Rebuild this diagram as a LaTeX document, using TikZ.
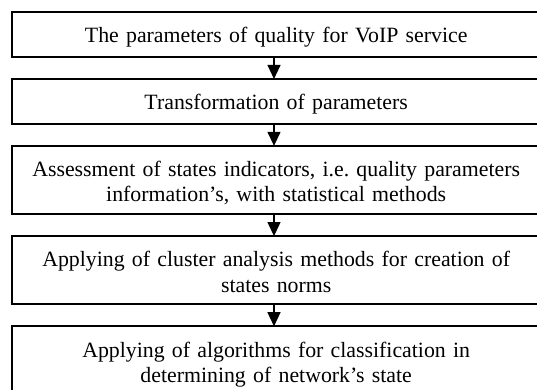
\documentclass[tikz,border=0pt]{standalone}
\usepackage{fontspec}
\setmainfont{Liberation Serif}
\usetikzlibrary{positioning,arrows.meta}
\frenchspacing
\tikzset{
  stage/.style={draw, line width=1.1pt, outer sep=0pt, inner xsep=4pt, inner ysep=0pt,
    text width=283pt, align=center, text height=17pt, text depth=7.6pt,
    font=\fontsize{12}{13.8}\selectfont},
  stagetwo/.style={stage, text depth=20.4pt},
  flow/.style={-{Triangle[length=7.7pt,width=7.2pt]}, line width=0.6pt}
}

\begin{document}
\begin{tikzpicture}
\useasboundingbox (0,0) rectangle (295.35pt,-214.5pt);
\coordinate (axis) at (150.7pt,0);
% the five stages, top to bottom
\node[stage, anchor=north] (params) at (151.9pt,-6.6pt) {The parameters of quality for VoIP service};
\node[stage, below=12.2pt of params] (transform) {Transformation of parameters};
\node[stagetwo, below=12.2pt of transform] (assess) {Assessment of states indicators, i.e.\ quality parameters\\ information’s, with statistical methods};
\node[stagetwo, below=12.2pt of assess] (cluster) {Applying of cluster analysis methods for creation of\\ states norms};
\node[stagetwo, below=12.2pt of cluster] (classify) {Applying of algorithms for classification in\\ determining of network’s state};
% arrows between them
\draw[flow] (params.south -| axis) -- (transform.north -| axis);
\draw[flow] (transform.south -| axis) -- (assess.north -| axis);
\draw[flow] (assess.south -| axis) -- (cluster.north -| axis);
\draw[flow] (cluster.south -| axis) -- (classify.north -| axis);
\end{tikzpicture}
\end{document}
